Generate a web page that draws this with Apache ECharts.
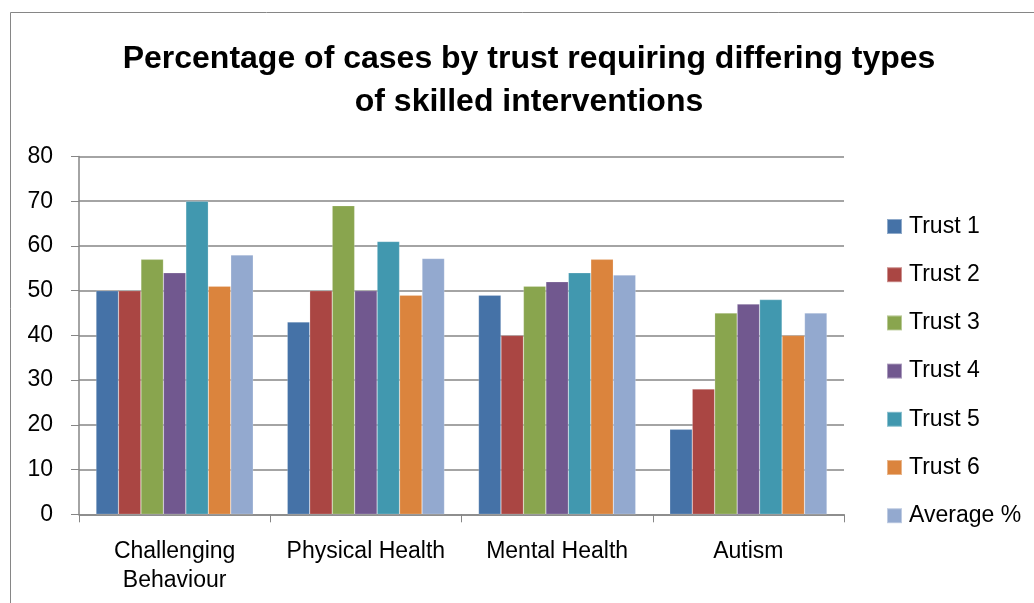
<!DOCTYPE html>
<html><head><meta charset="utf-8">
<script src="https://cdn.jsdelivr.net/npm/echarts@6/dist/echarts.min.js"></script>
<style>html,body{margin:0;padding:0;background:#fff}#c{width:1034px;height:603px}</style>
</head><body><div id="c"></div>
<script>
var categories = ['Challenging\nBehaviour', 'Physical Health', 'Mental Health', 'Autism'];
var seriesNames = ['Trust 1', 'Trust 2', 'Trust 3', 'Trust 4', 'Trust 5', 'Trust 6', 'Average %'];
var trust1 = [50, 43, 49, 19];
var trust2 = [50, 50, 40, 28];
var trust3 = [57, 69, 51, 45];
var trust4 = [54, 50, 52, 47];
var trust5 = [70, 61, 54, 48];
var trust6 = [51, 49, 57, 40];
var average = [58, 57.2, 53.5, 45];
var yTicks = [0, 10, 20, 30, 40, 50, 60, 70, 80];
var colors = ['#4572A7', '#AA4643', '#89A54E', '#71588F', '#4198AF', '#DB843D', '#93A9CF'];

var values = [trust1, trust2, trust3, trust4, trust5, trust6, average];
var font = '"Liberation Sans", Arial, sans-serif';
var chart = echarts.init(document.getElementById('c'));
chart.setOption({
  animation: false,
  color: colors,
  title: {
    text: 'Percentage of cases by trust requiring differing types\nof skilled interventions',
    left: 524, top: 33, textAlign: 'center',
    textStyle: {fontFamily: font, fontWeight: 'bold', fontSize: 32, lineHeight: 43, color: '#000'}
  },
  graphic: [{type: 'rect', shape: {x: 10.5, y: 12.5, width: 1040, height: 620}, style: {fill: 'none', stroke: '#868686', lineWidth: 1}, silent: true}],
  legend: {
    orient: 'vertical', left: 886, top: 215, padding: 0, itemGap: 25.2, itemWidth: 15, itemHeight: 15,
    icon: 'rect',
    textStyle: {fontFamily: font, fontSize: 23, color: '#000', padding: [0, 0, 0, 2]},
    data: seriesNames
  },
  grid: {left: 79, right: 190, top: 156.5, bottom: 88.7, containLabel: false},
  xAxis: {
    type: 'category', data: categories,
    axisLine: {lineStyle: {color: '#868686', width: 1.5}},
    axisTick: {show: true, length: 8, lineStyle: {color: '#868686'}},
    axisLabel: {interval: 0, fontFamily: font, fontSize: 23, color: '#000', margin: 23, lineHeight: 29}
  },
  yAxis: {
    type: 'value', min: 0, max: 80, interval: 10,
    axisLine: {show: true, lineStyle: {color: '#868686', width: 1.5}},
    axisTick: {show: true, length: 8, lineStyle: {color: '#868686'}},
    splitLine: {lineStyle: {color: '#868686', width: 1.5}},
    axisLabel: {fontFamily: font, fontSize: 23, color: '#000', margin: 26,
      formatter: function (v) { return yTicks.indexOf(v) >= 0 ? String(v) : ''; }}
  },
  series: seriesNames.map(function (n, i) {
    return {name: n, type: 'bar', data: values[i], barGap: '0%', barCategoryGap: '17.8%',
      itemStyle: {color: colors[i], borderColor: 'rgba(255,255,255,0.4)', borderWidth: 0.5}};
  })
});
</script></body></html>
